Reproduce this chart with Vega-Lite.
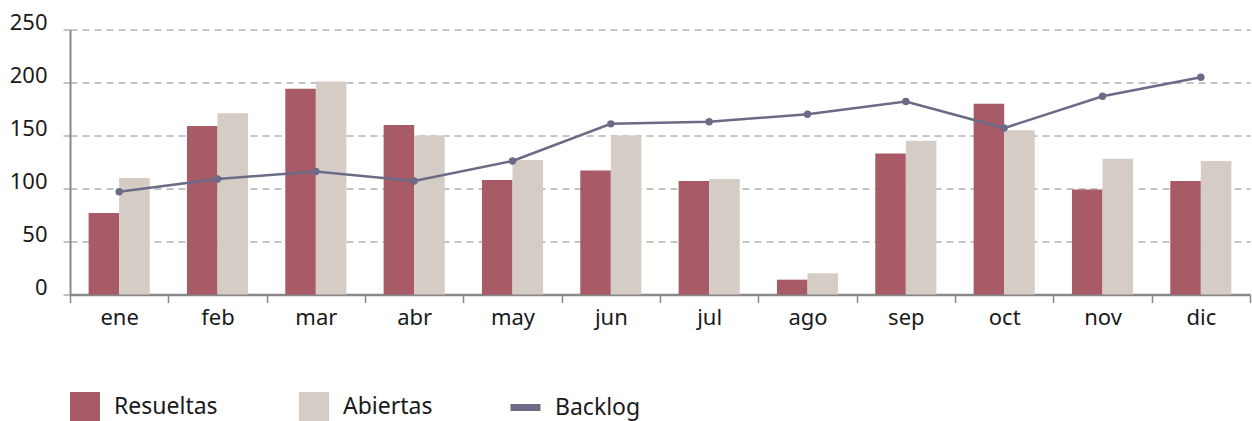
{
  "$schema": "https://vega.github.io/schema/vega-lite/v6.json",
  "width": 1180,
  "height": 265,
  "autosize": {"type": "none"},
  "padding": {"left": 70, "top": 29.5, "right": 2, "bottom": 126.5},
  "background": "white",
  "config": {"view": {"stroke": null}, "font": "Noto Sans"},
  "data": {"values": [
    {"mes": "ene", "serie": "Resueltas", "valor": 77}, {"mes": "ene", "serie": "Abiertas", "valor": 110}, {"mes": "ene", "serie": "Backlog", "valor": 97},
    {"mes": "feb", "serie": "Resueltas", "valor": 159}, {"mes": "feb", "serie": "Abiertas", "valor": 171}, {"mes": "feb", "serie": "Backlog", "valor": 109},
    {"mes": "mar", "serie": "Resueltas", "valor": 194}, {"mes": "mar", "serie": "Abiertas", "valor": 201}, {"mes": "mar", "serie": "Backlog", "valor": 116},
    {"mes": "abr", "serie": "Resueltas", "valor": 160}, {"mes": "abr", "serie": "Abiertas", "valor": 150}, {"mes": "abr", "serie": "Backlog", "valor": 107},
    {"mes": "may", "serie": "Resueltas", "valor": 108}, {"mes": "may", "serie": "Abiertas", "valor": 127}, {"mes": "may", "serie": "Backlog", "valor": 126},
    {"mes": "jun", "serie": "Resueltas", "valor": 117}, {"mes": "jun", "serie": "Abiertas", "valor": 150}, {"mes": "jun", "serie": "Backlog", "valor": 161},
    {"mes": "jul", "serie": "Resueltas", "valor": 107}, {"mes": "jul", "serie": "Abiertas", "valor": 109}, {"mes": "jul", "serie": "Backlog", "valor": 163},
    {"mes": "ago", "serie": "Resueltas", "valor": 14}, {"mes": "ago", "serie": "Abiertas", "valor": 20}, {"mes": "ago", "serie": "Backlog", "valor": 170},
    {"mes": "sep", "serie": "Resueltas", "valor": 133}, {"mes": "sep", "serie": "Abiertas", "valor": 145}, {"mes": "sep", "serie": "Backlog", "valor": 182},
    {"mes": "oct", "serie": "Resueltas", "valor": 180}, {"mes": "oct", "serie": "Abiertas", "valor": 155}, {"mes": "oct", "serie": "Backlog", "valor": 157},
    {"mes": "nov", "serie": "Resueltas", "valor": 99}, {"mes": "nov", "serie": "Abiertas", "valor": 128}, {"mes": "nov", "serie": "Backlog", "valor": 187},
    {"mes": "dic", "serie": "Resueltas", "valor": 107}, {"mes": "dic", "serie": "Abiertas", "valor": 126}, {"mes": "dic", "serie": "Backlog", "valor": 205}
  ]},
  "encoding": {
    "x": {
      "field": "mes", "type": "nominal",
      "sort": ["ene", "feb", "mar", "abr", "may", "jun", "jul", "ago", "sep", "oct", "nov", "dic"],
      "scale": {"paddingInner": 0, "paddingOuter": 0},
      "axis": {
        "title": null, "labelAngle": 0, "labelFontSize": 22, "labelColor": "#1a1a1a", "labelFont": "Noto Sans",
        "labelPadding": 5, "tickBand": "extent", "tickSize": 8, "tickColor": "#888888", "tickWidth": 1.5,
        "domainColor": "#888888", "domainWidth": 2.5, "grid": false
      }
    }
  },
  "layer": [
    {
      "transform": [{"filter": "datum.serie !== 'Backlog'"}],
      "mark": {"type": "bar"},
      "encoding": {
        "xOffset": {"field": "serie", "type": "nominal", "sort": ["Resueltas", "Abiertas"], "scale": {"domain": ["Resueltas", "Abiertas"], "paddingInner": 0, "paddingOuter": 0.61}},
        "y": {
          "field": "valor", "type": "quantitative",
          "scale": {"domain": [0, 250], "nice": false},
          "axis": {
            "title": null, "values": [0, 50, 100, 150, 200, 250], "labelFontSize": 22, "labelColor": "#1a1a1a", "labelFont": "Noto Sans",
            "labelBaseline": "alphabetic", "labelPadding": 15, "tickSize": 8, "tickColor": "#888888", "tickDash": [7, 5],
            "grid": true, "gridColor": "#888888", "gridDash": [7, 5], "gridWidth": 1,
            "domainColor": "#888888", "domainWidth": 2
          }
        },
        "fill": {
          "field": "serie", "type": "nominal",
          "scale": {"domain": ["Resueltas", "Abiertas"], "range": ["#A85A67", "#D5CCC6"]},
          "legend": {
            "orient": "none", "legendX": 0, "legendY": 362.5, "direction": "horizontal", "title": null,
            "symbolType": "square", "symbolSize": 900, "symbolStrokeWidth": 0, "symbolOpacity": 1,
            "labelFontSize": 23, "labelFont": "Noto Sans", "labelColor": "#1a1a1a", "labelOffset": 14,
            "columnPadding": 81, "padding": 0
          }
        }
      }
    },
    {
      "transform": [{"filter": "datum.serie === 'Backlog'"}],
      "mark": {"type": "line", "strokeWidth": 2.5},
      "encoding": {
        "y": {"field": "valor", "type": "quantitative"},
        "stroke": {
          "field": "serie", "type": "nominal",
          "scale": {"domain": ["Backlog"], "range": ["#6B6B86"]},
          "legend": {
            "orient": "none", "legendX": 437, "legendY": 359.5, "direction": "horizontal", "title": null,
            "symbolType": "stroke", "symbolSize": 900, "symbolStrokeWidth": 7,
            "labelFontSize": 23, "labelFont": "Noto Sans", "labelColor": "#1a1a1a", "labelOffset": 11, "padding": 0
          }
        }
      }
    },
    {
      "transform": [{"filter": "datum.serie === 'Backlog'"}],
      "mark": {"type": "point", "filled": true, "size": 55, "color": "#6B6B86", "opacity": 1},
      "encoding": {
        "y": {"field": "valor", "type": "quantitative"}
      }
    }
  ]
}
